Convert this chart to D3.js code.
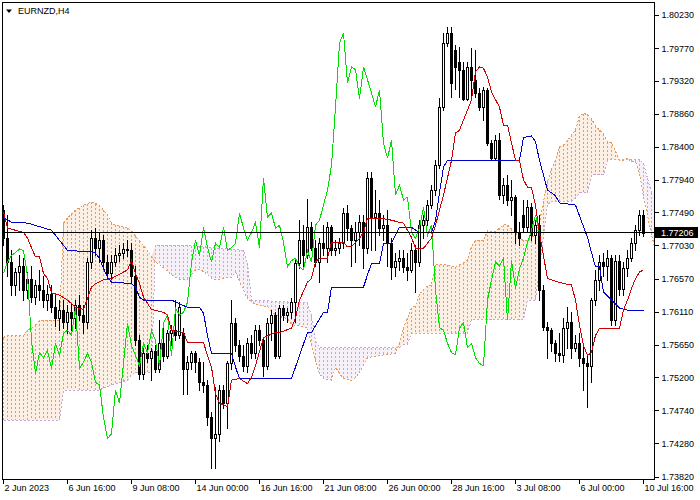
<!DOCTYPE html>
<html><head><meta charset="utf-8">
<script src="https://cdn.jsdelivr.net/npm/d3@7"></script>
<style>
html,body{margin:0;padding:0;background:#fff;}
svg{display:block;font-family:"Liberation Sans",Arial,sans-serif;}
</style></head><body>
<svg id="chart" width="700" height="500"></svg>
<script>
// ---------- DATA ----------
const symbolTitle = "EURNZD,H4";
const timeLabels = ["2 Jun 2023","6 Jun 16:00","9 Jun 08:00","14 Jun 00:00","16 Jun 16:00","21 Jun 08:00","26 Jun 00:00","28 Jun 16:00","3 Jul 08:00","6 Jul 00:00","10 Jul 16:00"];
const timeLabelBars = [0,16,32,48,64,80,96,112,128,144,160];
const priceTicks = [1.80230,1.79770,1.79320,1.78860,1.78400,1.77940,1.77490,1.77030,1.76570,1.76110,1.75650,1.75200,1.74740,1.74280,1.73820];
const currentPrice = 1.77206;
const chikouShift = 26;

const open = [1.7752,1.7713,1.7680,1.7648,1.7666,1.7675,1.7641,1.7657,1.7632,1.7648,1.7641,1.7627,1.7635,1.7618,1.7602,1.7613,1.7596,1.7610,1.7602,1.7620,1.7606,1.7596,1.7680,1.7713,1.7699,1.7710,1.7680,1.7664,1.7680,1.7689,1.7693,1.7698,1.7696,1.7661,1.7571,1.7525,1.7554,1.7547,1.7557,1.7532,1.7567,1.7550,1.7581,1.7585,1.7578,1.7582,1.7532,1.7541,1.7553,1.7541,1.7513,1.7509,1.7464,1.7435,1.7441,1.7502,1.7484,1.7539,1.7595,1.7564,1.7550,1.7536,1.7567,1.7554,1.7585,1.7571,1.7536,1.7595,1.7606,1.7550,1.7616,1.7606,1.7610,1.7624,1.7679,1.7710,1.7689,1.7728,1.7700,1.7680,1.7706,1.7700,1.7728,1.7696,1.7700,1.7706,1.7748,1.7727,1.7710,1.7721,1.7735,1.7700,1.7797,1.7742,1.7748,1.7727,1.7731,1.7707,1.7673,1.7682,1.7685,1.7673,1.7669,1.7696,1.7680,1.7731,1.7738,1.7759,1.7780,1.7814,1.7895,1.7984,1.7998,1.7974,1.7958,1.7947,1.7907,1.7951,1.7933,1.7915,1.7895,1.7919,1.7845,1.7824,1.7849,1.7773,1.7787,1.7766,1.7770,1.7721,1.7745,1.7728,1.7756,1.7717,1.7731,1.7641,1.7589,1.7585,1.7567,1.7554,1.7551,1.7588,1.7596,1.7561,1.7567,1.7547,1.7539,1.7536,1.7627,1.7655,1.7680,1.7674,1.7685,1.7599,1.7682,1.7643,1.7671,1.7685,1.7707,1.7724,1.7745];
const high = [1.7759,1.7745,1.7696,1.7671,1.7689,1.7685,1.7666,1.7675,1.7655,1.7669,1.7661,1.7648,1.7648,1.7634,1.7627,1.7627,1.7620,1.7621,1.7627,1.7634,1.7620,1.7685,1.7724,1.7727,1.7721,1.7717,1.7689,1.7689,1.7699,1.7703,1.7707,1.7710,1.7706,1.7675,1.7578,1.7560,1.7564,1.7561,1.7564,1.7599,1.7596,1.7585,1.7592,1.7627,1.7624,1.7588,1.7550,1.7557,1.7557,1.7546,1.7541,1.7516,1.7471,1.7506,1.7509,1.7509,1.7543,1.7627,1.7602,1.7571,1.7564,1.7574,1.7578,1.7592,1.7592,1.7574,1.7602,1.7613,1.7610,1.7620,1.7620,1.7616,1.7630,1.7685,1.7738,1.7731,1.7768,1.7735,1.7710,1.7713,1.7731,1.7735,1.7731,1.7710,1.7713,1.7755,1.7759,1.7731,1.7735,1.7745,1.7745,1.7805,1.7805,1.7780,1.7766,1.7745,1.7752,1.7713,1.7693,1.7696,1.7696,1.7693,1.7706,1.7703,1.7738,1.7745,1.7766,1.7787,1.7821,1.7908,1.7998,1.8006,1.8006,1.7981,1.7978,1.7958,1.7958,1.7977,1.7974,1.7921,1.7923,1.7921,1.7849,1.7856,1.7859,1.7797,1.7801,1.7794,1.7773,1.7735,1.7766,1.7766,1.7762,1.7738,1.7745,1.7648,1.7596,1.7588,1.7571,1.7581,1.7602,1.7617,1.7610,1.7578,1.7581,1.7564,1.7550,1.7630,1.7669,1.7689,1.7693,1.7696,1.7689,1.7689,1.7689,1.7680,1.7696,1.7713,1.7731,1.7752,1.7752];
const low = [1.7703,1.7661,1.7634,1.7634,1.7641,1.7627,1.7630,1.7624,1.7621,1.7627,1.7618,1.7613,1.7611,1.7591,1.7585,1.7588,1.7582,1.7585,1.7588,1.7599,1.7581,1.7588,1.7671,1.7689,1.7680,1.7671,1.7657,1.7657,1.7674,1.7682,1.7685,1.7688,1.7652,1.7564,1.7518,1.7518,1.7541,1.7516,1.7527,1.7527,1.7543,1.7546,1.7564,1.7571,1.7574,1.7497,1.7497,1.7532,1.7527,1.7502,1.7499,1.7453,1.7394,1.7394,1.7432,1.7477,1.7450,1.7532,1.7557,1.7543,1.7529,1.7527,1.7546,1.7546,1.7564,1.7522,1.7532,1.7571,1.7546,1.7546,1.7599,1.7596,1.7602,1.7596,1.7671,1.7675,1.7685,1.7696,1.7675,1.7652,1.7689,1.7680,1.7689,1.7689,1.7693,1.7699,1.7710,1.7675,1.7680,1.7703,1.7671,1.7693,1.7696,1.7696,1.7717,1.7710,1.7675,1.7657,1.7661,1.7669,1.7666,1.7655,1.7666,1.7638,1.7675,1.7713,1.7731,1.7755,1.7773,1.7810,1.7891,1.7980,1.7909,1.7920,1.7909,1.7905,1.7905,1.7909,1.7909,1.7891,1.7877,1.7842,1.7821,1.7821,1.7768,1.7762,1.7759,1.7745,1.7707,1.7703,1.7721,1.7721,1.7710,1.7707,1.7627,1.7585,1.7546,1.7557,1.7543,1.7543,1.7541,1.7561,1.7546,1.7557,1.7536,1.7502,1.7478,1.7513,1.7620,1.7641,1.7661,1.7655,1.7592,1.7592,1.7634,1.7634,1.7661,1.7682,1.7696,1.7717,1.7716];
const close = [1.7713,1.7680,1.7648,1.7666,1.7675,1.7641,1.7657,1.7632,1.7648,1.7641,1.7627,1.7635,1.7618,1.7602,1.7613,1.7596,1.7610,1.7602,1.7620,1.7606,1.7596,1.7680,1.7713,1.7699,1.7710,1.7680,1.7664,1.7680,1.7689,1.7693,1.7698,1.7696,1.7661,1.7571,1.7525,1.7554,1.7547,1.7557,1.7532,1.7567,1.7550,1.7581,1.7585,1.7578,1.7617,1.7532,1.7541,1.7553,1.7541,1.7513,1.7509,1.7464,1.7435,1.7441,1.7502,1.7484,1.7539,1.7595,1.7564,1.7550,1.7536,1.7567,1.7554,1.7585,1.7571,1.7536,1.7595,1.7606,1.7550,1.7616,1.7606,1.7610,1.7624,1.7679,1.7710,1.7689,1.7728,1.7700,1.7680,1.7706,1.7700,1.7728,1.7696,1.7700,1.7706,1.7748,1.7727,1.7710,1.7721,1.7735,1.7700,1.7797,1.7742,1.7748,1.7727,1.7731,1.7707,1.7673,1.7682,1.7685,1.7673,1.7669,1.7696,1.7680,1.7731,1.7738,1.7759,1.7780,1.7814,1.7895,1.7984,1.7998,1.7928,1.7951,1.7947,1.7907,1.7951,1.7933,1.7915,1.7895,1.7919,1.7845,1.7824,1.7849,1.7773,1.7787,1.7766,1.7770,1.7721,1.7713,1.7728,1.7756,1.7717,1.7731,1.7641,1.7589,1.7585,1.7567,1.7554,1.7551,1.7588,1.7596,1.7561,1.7567,1.7547,1.7539,1.7536,1.7627,1.7655,1.7680,1.7674,1.7685,1.7599,1.7682,1.7643,1.7671,1.7685,1.7707,1.7724,1.7745,1.77206];

// Tenkan-sen (red), Kijun-sen (blue): [bar, price] points
const tenkan = [[0,1.7749],[1,1.7727],[5,1.7721],[6,1.7713],[8,1.7687],[9,1.7687],[10,1.7664],[11,1.7657],[12,1.7637],[14,1.7634],[16,1.7627],[18,1.7617],[20,1.7614],[22,1.7645],[23,1.7650],[25,1.7655],[27,1.7657],[31,1.7669],[32,1.7682],[33,1.7664],[34,1.7650],[35,1.7631],[37,1.7614],[40,1.7610],[41,1.7606],[42,1.7585],[45,1.7582],[46,1.7568],[50,1.7568],[51,1.7550],[52,1.7534],[53,1.7497],[54,1.7484],[56,1.7479],[57,1.7516],[59,1.7518],[61,1.7511],[62,1.7520],[63,1.7536],[65,1.7575],[68,1.7582],[69,1.7582],[72,1.7588],[73,1.7602],[74,1.7627],[76,1.7652],[77,1.7657],[78,1.7680],[79,1.7685],[81,1.7685],[82,1.7707],[85,1.7707],[86,1.7701],[87,1.7701],[89,1.7713],[90,1.7721],[91,1.7741],[94,1.7741],[97,1.7738],[99,1.7735],[100,1.7734],[102,1.7714],[103,1.7699],[105,1.7699],[106,1.7706],[107,1.7713],[108,1.7731],[110,1.7773],[112,1.7821],[113,1.7859],[114,1.7863],[117,1.7905],[118,1.7944],[119,1.7951],[120,1.7949],[121,1.7937],[122,1.7916],[124,1.7895],[125,1.7870],[126,1.7870],[128,1.7821],[129,1.7821],[130,1.7794],[131,1.7784],[132,1.7783],[133,1.7759],[134,1.7720],[136,1.7657],[137,1.7655],[140,1.7650],[142,1.7648],[143,1.7627],[144,1.7592],[145,1.7564],[146,1.7550],[147,1.7554],[148,1.7578],[149,1.7588],[154,1.7588],[155,1.7613],[156,1.7627],[157,1.7643],[158,1.7657],[159,1.7666],[160,1.7669]];
const kijun = [[0,1.7742],[2,1.7735],[6,1.7734],[12,1.7724],[13,1.7717],[14,1.7710],[16,1.7696],[22,1.7694],[23,1.7692],[24,1.7685],[25,1.7671],[26,1.7659],[27,1.7652],[32,1.7650],[33,1.7645],[34,1.7631],[35,1.7627],[42,1.7627],[46,1.7617],[49,1.7617],[50,1.7609],[51,1.7578],[52,1.7553],[57,1.7553],[58,1.7534],[59,1.7518],[72,1.7518],[73,1.7534],[76,1.7582],[77,1.7582],[80,1.7610],[81,1.7610],[82,1.7645],[90,1.7645],[91,1.7662],[92,1.7678],[94,1.7678],[95,1.7706],[97,1.7706],[99,1.7728],[102,1.7728],[104,1.7721],[107,1.7721],[108,1.7738],[109,1.7776],[110,1.7812],[111,1.7821],[129,1.7821],[130,1.7853],[132,1.7855],[133,1.7847],[134,1.7821],[136,1.7780],[137,1.7776],[138,1.7772],[139,1.7762],[143,1.7759],[146,1.7714],[147,1.7693],[148,1.7673],[149,1.7673],[150,1.7638],[152,1.7627],[154,1.7616],[156,1.7613],[160,1.7613]];
// Senkou Span A / B (already displaced 26 bars forward): [bar, price]
const senkouA = [[0,1.7575],[1,1.7578],[5,1.7578],[6,1.7585],[8,1.7592],[9,1.7599],[14,1.7599],[15,1.7734],[16,1.7741],[18,1.7752],[20,1.7759],[22,1.7763],[24,1.7759],[25,1.7752],[26,1.7746],[27,1.7734],[28,1.7731],[31,1.7727],[32,1.7723],[34,1.7709],[36,1.7696],[38,1.7680],[40,1.7672],[42,1.7662],[44,1.7656],[46,1.7655],[48,1.7669],[49,1.7670],[51,1.7663],[52,1.7657],[53,1.7655],[57,1.7659],[58,1.7666],[59,1.7653],[60,1.7641],[61,1.7629],[63,1.7621],[66,1.7618],[68,1.7606],[71,1.7601],[72,1.7593],[76,1.7589],[77,1.7564],[78,1.7543],[79,1.7525],[80,1.7518],[82,1.7516],[83,1.7534],[84,1.7525],[85,1.7518],[87,1.7515],[88,1.7519],[89,1.7527],[91,1.7547],[94,1.7550],[98,1.7553],[99,1.7568],[100,1.7588],[102,1.7616],[103,1.7619],[104,1.7635],[105,1.7642],[106,1.7647],[107,1.7648],[108,1.7676],[111,1.7676],[112,1.7673],[113,1.7673],[115,1.7679],[116,1.7683],[117,1.7701],[118,1.7710],[120,1.7710],[121,1.7723],[123,1.7722],[125,1.7732],[126,1.7731],[128,1.7721],[129,1.7712],[130,1.7710],[131,1.7710],[132,1.7714],[133,1.7717],[134,1.7735],[135,1.7764],[136,1.7792],[137,1.7809],[138,1.7821],[139,1.7840],[140,1.7842],[143,1.7863],[144,1.7883],[145,1.7886],[146,1.7885],[147,1.7879],[148,1.7869],[150,1.7858],[151,1.7846],[152,1.7846],[154,1.7821],[155,1.7821],[156,1.7824],[157,1.7819],[158,1.7819],[159,1.7803],[160,1.7771],[161,1.7745],[162,1.7718],[163,1.7696]];
const senkouB = [[0,1.7460],[14,1.7460],[15,1.7502],[24,1.7502],[25,1.7505],[31,1.7516],[32,1.7523],[33,1.7526],[37,1.7527],[38,1.7703],[46,1.7703],[60,1.7696],[61,1.7678],[62,1.7627],[76,1.7623],[77,1.7606],[78,1.7570],[79,1.7561],[99,1.7561],[100,1.7566],[101,1.7566],[102,1.7581],[116,1.7581],[117,1.7600],[130,1.7600],[131,1.7627],[133,1.7627],[134,1.7672],[135,1.7715],[136,1.7760],[137,1.7764],[142,1.7764],[143,1.7769],[144,1.7776],[146,1.7776],[147,1.7801],[150,1.7801],[151,1.7822],[159,1.7822],[160,1.7817],[161,1.7796],[162,1.7776],[163,1.7776]];

// ---------- DRAW ----------
const plotL = 2, plotR = 654, plotT = 2, plotB = 479;
const svg = d3.select("#chart");

const x = d3.scaleLinear().domain([0, 160]).range([3, 643]);
const y = d3.scaleLinear().domain([1.73820, 1.80230]).range([476.5, 15]);
const col = i => Math.round(x(i));
const py = v => Math.round(y(v));

const defs = svg.append("defs");
defs.append("clipPath").attr("id","plotClip").append("rect")
  .attr("x", plotL+1).attr("y", plotT+1).attr("width", plotR-plotL-1).attr("height", plotB-plotT-1);

const upColor = "#EE9A55", dnColor = "#C9A6D6";
const plot = svg.append("g").attr("clip-path","url(#plotClip)");

// Kumo
const aScale = d3.scaleLinear().domain(senkouA.map(d=>d[0])).range(senkouA.map(d=>d[1])).clamp(true);
const bScale = d3.scaleLinear().domain(senkouB.map(d=>d[0])).range(senkouB.map(d=>d[1])).clamp(true);
const kumoBars = d3.range(0, 164);
// light tint of each cloud part
const upArea = d3.area().x(i => x(i)+0.5)
  .y0(i => y(bScale(i))).y1(i => y(Math.max(aScale(i), bScale(i))));
const dnArea = d3.area().x(i => x(i)+0.5)
  .y0(i => y(aScale(i))).y1(i => y(Math.max(aScale(i), bScale(i))));
plot.append("path").attr("d", upArea(kumoBars)).attr("fill", upColor).attr("fill-opacity", 0.16);
plot.append("path").attr("d", dnArea(kumoBars)).attr("fill", dnColor).attr("fill-opacity", 0.16);
// dotted vertical line per bar between Span A and Span B
const kg = plot.append("g");
kg.selectAll("rect").data(kumoBars.flatMap(i => {
    const top = py(Math.max(aScale(i), bScale(i))), bot = py(Math.min(aScale(i), bScale(i)));
    const c = aScale(i) >= bScale(i) ? upColor : dnColor;
    return d3.range(top, bot, 4).map(yy => ({i, yy, h: Math.min(2, bot - yy), c}));
  })).join("rect")
  .attr("x", d => col(d.i)).attr("y", d => d.yy).attr("width", 1).attr("height", d => d.h)
  .attr("fill", d => d.c).attr("shape-rendering","crispEdges");
const ptLine = d3.line().x(d => x(d[0])+0.5).y(d => y(d[1]));
plot.append("path").attr("d", ptLine(senkouA)).attr("fill","none").attr("stroke",upColor)
  .attr("stroke-width",1).attr("stroke-dasharray","2,2").attr("shape-rendering","crispEdges");
plot.append("path").attr("d", ptLine(senkouB)).attr("fill","none").attr("stroke",dnColor)
  .attr("stroke-width",1).attr("stroke-dasharray","2,2").attr("shape-rendering","crispEdges");

// Candles
const bars = d3.range(open.length);
const cg = plot.append("g").attr("shape-rendering","crispEdges");
cg.selectAll("line.wick").data(bars).join("line").attr("class","wick")
  .attr("x1", i => col(i)+0.5).attr("x2", i => col(i)+0.5)
  .attr("y1", i => py(high[i])).attr("y2", i => py(low[i])+1)
  .attr("stroke","#000").attr("stroke-width",1);
cg.selectAll("rect.body").data(bars).join("rect").attr("class","body")
  .attr("x", i => col(i)-0.5).attr("width", 2)
  .attr("y", i => py(Math.max(open[i], close[i]))+0.5)
  .attr("height", i => Math.max(0, py(Math.min(open[i], close[i])) - py(Math.max(open[i], close[i]))))
  .attr("fill", i => close[i] >= open[i] ? "#fff" : "#000")
  .attr("stroke","#000").attr("stroke-width",1);

// Ichimoku lines
const lineG = plot.append("g").attr("fill","none").attr("stroke-width",1).attr("shape-rendering","crispEdges");
const chikou = close.slice(chikouShift).map((v, j) => [j, v]);
lineG.append("path").attr("d", ptLine(chikou)).attr("stroke","#00dd00");
lineG.append("path").attr("d", ptLine(kijun)).attr("stroke","#0000cc");
lineG.append("path").attr("d", ptLine(tenkan)).attr("stroke","#cc0000");

// Current price line
const cpY = Math.floor(y(currentPrice)) + 0.5;
plot.append("line").attr("x1", plotL).attr("x2", plotR).attr("y1", cpY).attr("y2", cpY)
  .attr("stroke","#000").attr("stroke-width",1).attr("shape-rendering","crispEdges");

// Frame
svg.append("rect").attr("x", plotL+0.5).attr("y", plotT+0.5)
  .attr("width", plotR-plotL).attr("height", plotB-plotT)
  .attr("fill","none").attr("stroke","#000").attr("shape-rendering","crispEdges");

// Price axis
const yAxis = d3.axisRight(y).tickValues(priceTicks).tickSize(4).tickPadding(3)
  .tickFormat(d => d.toFixed(5));
const ya = svg.append("g").attr("transform", `translate(${plotR+0.5},0)`).call(yAxis);
ya.select(".domain").remove();
ya.selectAll("line").attr("shape-rendering","crispEdges");
ya.selectAll("text").attr("font-size", 9).attr("font-family","Liberation Sans, Arial, sans-serif").attr("fill","#000");

// Current price label
svg.append("rect").attr("x", plotR+1).attr("y", cpY-5.5).attr("width", 43).attr("height", 11).attr("fill","#000");
svg.append("text").attr("x", plotR+7).attr("y", cpY).attr("dy","0.35em")
  .attr("font-size",9).attr("fill","#fff").text(currentPrice.toFixed(5));

// Time axis
const xAxis = d3.axisBottom(x).tickValues(timeLabelBars).tickSize(5)
  .tickFormat((d, i) => timeLabels[i]);
const xa = svg.append("g").attr("transform", `translate(0,${plotB})`).call(xAxis);
xa.select(".domain").remove();
xa.selectAll("line").attr("shape-rendering","crispEdges");
xa.selectAll("text").attr("text-anchor","start").attr("x", 1).attr("y", 6).attr("dy","0.71em")
  .attr("font-size", 9).attr("font-family","Liberation Sans, Arial, sans-serif").attr("fill","#000");

// Title
svg.append("path").attr("d","M6,9.5 L12,9.5 L9,13 Z").attr("fill","#000");
svg.append("text").attr("x", 18).attr("y", 14).attr("font-size", 9).attr("fill","#000").text(symbolTitle);
</script>
</body></html>
